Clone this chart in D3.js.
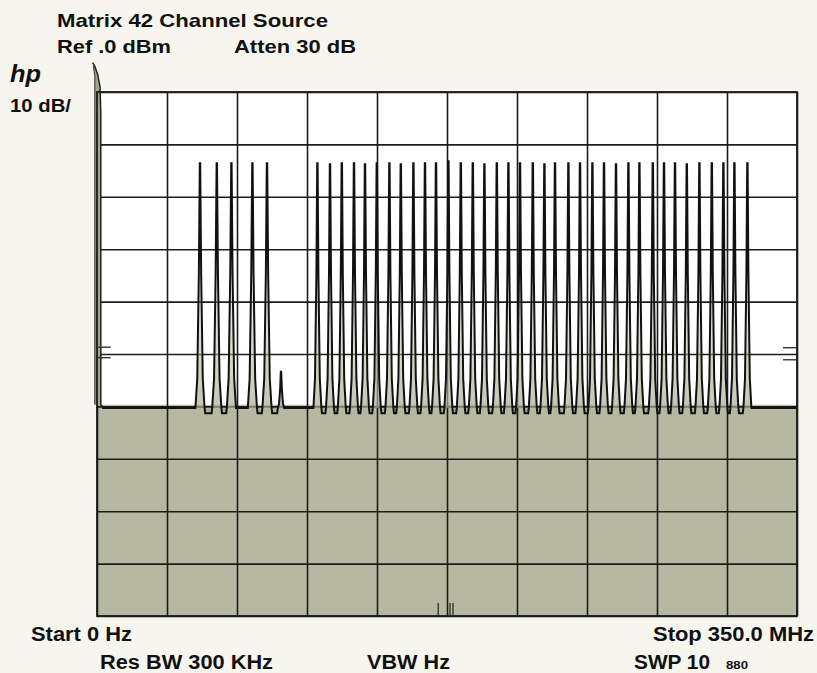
<!DOCTYPE html>
<html>
<head>
<meta charset="utf-8">
<script src="https://cdn.jsdelivr.net/npm/d3@7"></script>
<style>
  html, body { margin: 0; padding: 0; background: #f6f6ee; }
  svg { display: block; }
  text { font-family: "Liberation Sans", Arial, Helvetica, sans-serif; font-weight: bold; fill: #111; }
</style>
</head>
<body>
<svg id="chart" width="817" height="673"></svg>
<script>
const startMHz = 0;
const stopMHz = 350;
const refLevelDbm = 0;
const dbPerDiv = 10;
const divisions = 10;
const noiseFloorDbm = -60.3;

// Carrier frequencies (MHz) and levels (dBm) of the 42 channels
const lowBandFreqs = [51.5, 59.9, 67.2, 77.7, 85.0];
const lowBandLevels = [-13.6, -13.6, -13.6, -13.6, -13.6];
const midSuperFreqs = [110.2, 116.5, 122.4, 128.5, 134.0, 139.9, 146.2, 151.9, 158.2, 164.0,
                       169.5, 175.7, 181.9, 187.9, 193.7, 199.9, 205.7, 211.5, 217.9, 223.7,
                       229.0, 235.7, 241.5, 247.7, 253.5, 259.5, 265.7, 271.2, 277.9, 283.5,
                       289.0, 294.9, 301.2, 307.4, 313.2, 318.7, 325.2];
const midSuperLevels = [-13.6, -13.8, -13.6, -13.6, -13.8, -13.6, -13.6, -13.8, -13.6, -13.6,
                        -13.6, -13.2, -13.6, -13.6, -13.8, -13.6, -13.6, -13.6, -13.6, -13.8,
                        -13.6, -13.6, -13.6, -13.6, -13.6, -13.8, -13.6, -13.6, -13.6, -13.6,
                        -13.6, -13.8, -13.6, -13.6, -13.6, -13.6, -13.6];
// small spurious response
const spurFreq = [92.0];
const spurLevel = [-53.4];
// LO feed-through at 0 Hz: [MHz, dBm]
const loOuter = [[-2.2, 5.6], [-1.2, 5.0], [0.3, 3.4], [1.5, 1.0], [1.9, -4], [1.9, -59.7]];
const loInner = [[-1.1, -59.7], [-1.1, 3.0], [-1.8, 5.0]];
// reference markers (dBm)
const leftMarkers = [-48.7, -50.7];
const rightMarkers = [-48.8, -51.1];
// small markers at bottom (MHz)
const bottomTicks = [170.6, 176.5, 178.0];

const titleText = "Matrix 42 Channel Source";
const refText = "Ref .0 dBm";
const attenText = "Atten 30 dB";
const logoText = "hp";
const scaleText = "10 dB/";
const startText = "Start 0 Hz";
const stopText = "Stop 350.0 MHz";
const rbwText = "Res BW 300 KHz";
const vbwText = "VBW Hz";
const swpText = "SWP 10";
const figText = "880";

// ---- Layout ----
const L = 97, R = 797, T = 92, B = 616;
const svg = d3.select("#chart");
const x = d3.scaleLinear().domain([startMHz, stopMHz]).range([L, R]);
const y = d3.scaleLinear().domain([refLevelDbm - dbPerDiv * divisions, refLevelDbm]).range([B, T]);

const defs = svg.append("defs");
const grad = defs.append("linearGradient").attr("id", "skirt")
  .attr("gradientUnits", "userSpaceOnUse")
  .attr("x1", 0).attr("x2", 0).attr("y1", y(-14)).attr("y2", y(noiseFloorDbm));
grad.append("stop").attr("offset", "0%").attr("stop-color", "#ffffff").attr("stop-opacity", 0);
grad.append("stop").attr("offset", "40%").attr("stop-color", "#c9cbb6").attr("stop-opacity", 0.25);
grad.append("stop").attr("offset", "100%").attr("stop-color", "#a9ab93").attr("stop-opacity", 0.7);

// graticule background
svg.append("rect").attr("x", L).attr("y", T).attr("width", R - L).attr("height", B - T).attr("fill", "#ffffff");
// shaded region below the noise floor
svg.append("rect").attr("x", L).attr("y", y(-59.7)).attr("width", R - L)
  .attr("height", B - y(-59.7)).attr("fill", "#b6b8a1");

// grid via axes
const xGrid = d3.axisBottom(x).tickValues(d3.range(startMHz, stopMHz + 0.1, (stopMHz - startMHz) / divisions))
  .tickSize(-(B - T)).tickFormat("");
const gx = svg.append("g").attr("transform", `translate(0,${B})`).call(xGrid);
const yGrid = d3.axisLeft(y).tickValues(d3.range(-100, 0.1, dbPerDiv)).tickSize(-(R - L)).tickFormat("");
const gy = svg.append("g").attr("transform", `translate(${L},0)`).call(yGrid);
[gx, gy].forEach(g => {
  g.select(".domain").remove();
  g.selectAll("line").attr("stroke", "#1c1c1c").attr("stroke-width", 1.6);
});

// ---- Build trace ----
const carriers = lowBandFreqs.map((f, i) => ({ f, lvl: lowBandLevels[i], hw: 2.3 }))
  .concat(spurFreq.map((f, i) => ({ f, lvl: spurLevel[i], hw: 1.6 })))
  .concat(midSuperFreqs.map((f, i) => ({ f, lvl: midSuperLevels[i], hw: 2.0 })))
  .sort((a, b) => a.f - b.f);

const notch = noiseFloorDbm - 1.0;
const trace = [[2.5, noiseFloorDbm]];
carriers.forEach((c, i) => {
  const prev = i > 0 ? carriers[i - 1] : null;
  if (prev && c.f - c.hw - (prev.f + prev.hw) < 4) {
    trace.push([prev.f + prev.hw + 0.3, notch]);
    trace.push([c.f - c.hw - 0.3, notch]);
  }
  const span = c.lvl - noiseFloorDbm;
  trace.push([c.f - c.hw, noiseFloorDbm]);
  trace.push([c.f - c.hw * 0.6, noiseFloorDbm + span * 0.12]);
  trace.push([c.f - c.hw * 0.25, noiseFloorDbm + span * 0.55]);
  trace.push([c.f - 0.1, c.lvl]);
  trace.push([c.f + 0.1, c.lvl]);
  trace.push([c.f + c.hw * 0.25, noiseFloorDbm + span * 0.55]);
  trace.push([c.f + c.hw * 0.6, noiseFloorDbm + span * 0.12]);
  trace.push([c.f + c.hw, noiseFloorDbm]);
});
trace.push([stopMHz, noiseFloorDbm]);

const line = d3.line().x(d => x(d[0])).y(d => y(d[1]));
const area = d3.area().x(d => x(d[0])).y0(y(noiseFloorDbm)).y1(d => y(d[1]));

svg.append("path").datum(trace).attr("d", area).attr("fill", "url(#skirt)");
svg.append("path").datum(trace).attr("d", line)
  .attr("fill", "none").attr("stroke", "#111").attr("stroke-width", 2.0).attr("stroke-linejoin", "miter");

// LO feedthrough
const loPoly = loOuter.concat(loInner);
svg.append("path").datum(loPoly)
  .attr("d", d3.line().x(d => x(d[0])).y(d => y(d[1])).curve(d3.curveLinearClosed))
  .attr("fill", "#a3a58d").attr("stroke", "none");
svg.append("path").datum(loOuter.concat([[3.5, noiseFloorDbm]]))
  .attr("d", line).attr("fill", "none").attr("stroke", "#222").attr("stroke-width", 1.5);
svg.append("path").datum(loInner).attr("d", line)
  .attr("fill", "none").attr("stroke", "#444").attr("stroke-width", 1.2);

// border
svg.append("rect").attr("x", L).attr("y", T).attr("width", R - L).attr("height", B - T)
  .attr("fill", "none").attr("stroke", "#1c1c1c").attr("stroke-width", 1.8);

// reference markers
svg.selectAll(".lm").data(leftMarkers).join("line")
  .attr("x1", x(0)).attr("x2", x(6.8)).attr("y1", d => y(d)).attr("y2", d => y(d))
  .attr("stroke", "#333").attr("stroke-width", 1.4);
svg.selectAll(".rm").data(rightMarkers).join("line")
  .attr("x1", x(stopMHz - 7)).attr("x2", x(stopMHz)).attr("y1", d => y(d)).attr("y2", d => y(d))
  .attr("stroke", "#333").attr("stroke-width", 1.4);
svg.selectAll(".bt").data(bottomTicks).join("line")
  .attr("x1", d => x(d)).attr("x2", d => x(d)).attr("y1", y(-97.5)).attr("y2", B)
  .attr("stroke", "#222").attr("stroke-width", 1.2);

// ---- Text ----
function label(txt, x0, yb, w, size, extra) {
  const t = svg.append("text").attr("x", x0).attr("y", yb).attr("font-size", size)
    .attr("textLength", w).attr("lengthAdjust", "spacingAndGlyphs").text(txt);
  if (extra) extra(t);
  return t;
}
label(titleText, 57, 27, 271, 19);
label(refText, 57, 53, 114, 19);
label(attenText, 234, 53, 122, 19);
label(logoText, 10, 82, 31, 23, t => t.attr("font-style", "italic"));
label(scaleText, 10, 112, 61, 19);
label(startText, 31, 641, 101, 19.5);
label(stopText, 653, 641, 161, 19.5);
label(rbwText, 100, 669, 173, 19.5);
label(vbwText, 367, 669, 83, 19.5);
label(swpText, 634, 669, 76, 19.5);
label(figText, 726, 669, 22, 11);
</script>
</body>
</html>
